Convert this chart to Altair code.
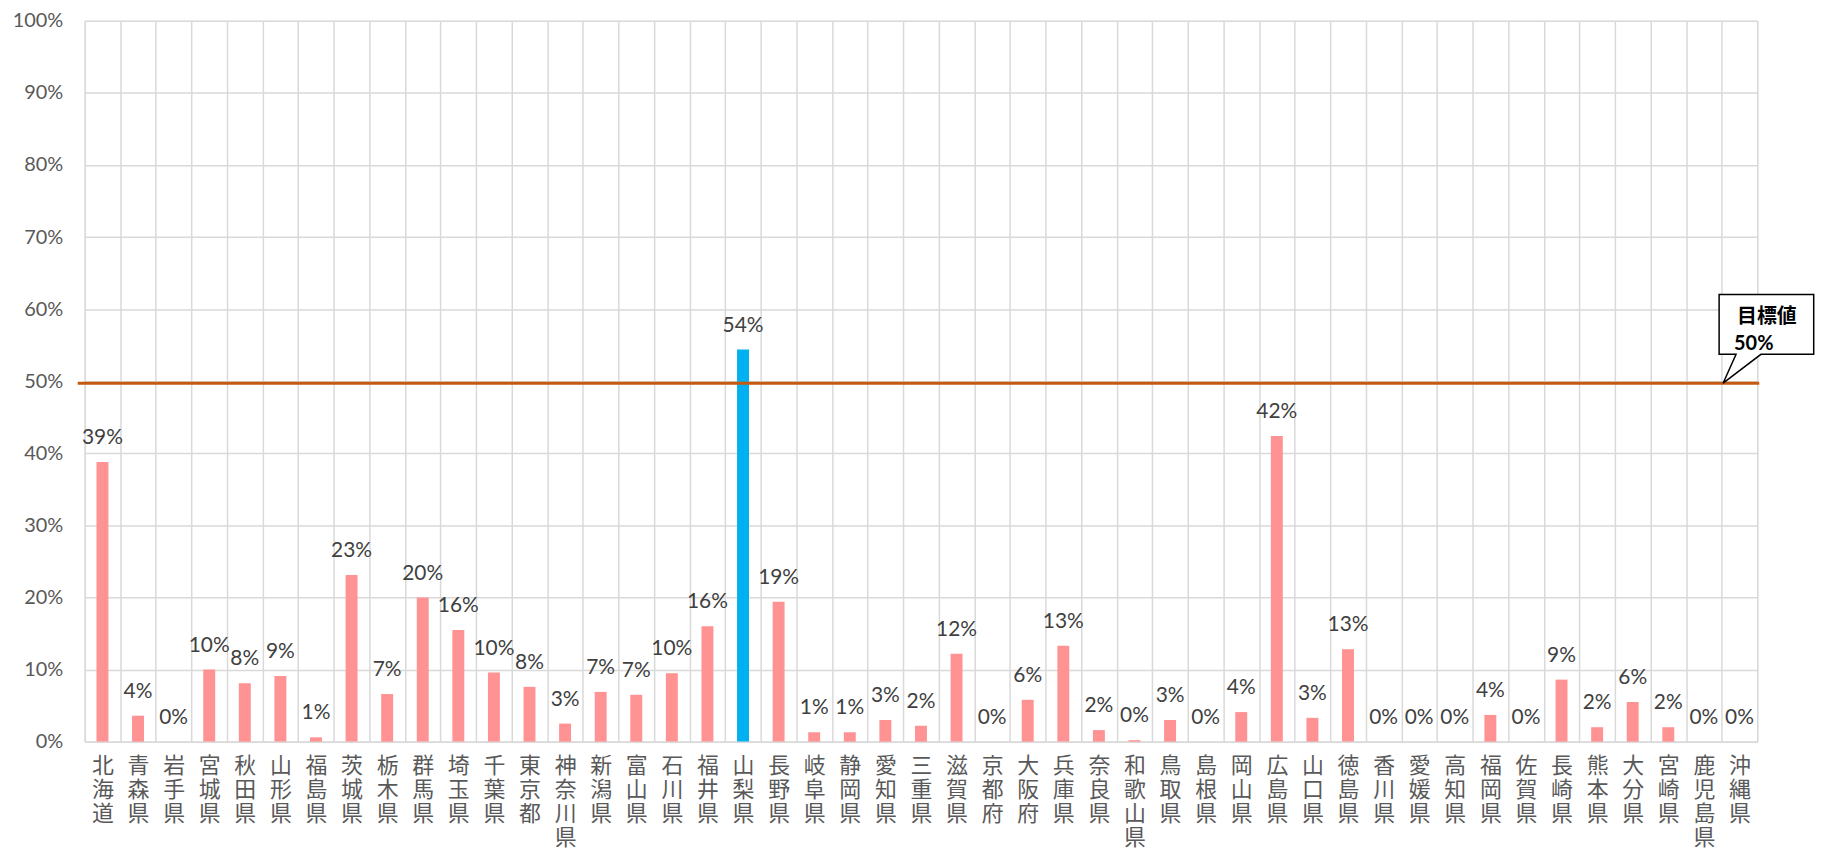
import altair as alt
import pandas as pd

prefectures = ["北海道", "青森県", "岩手県", "宮城県", "秋田県", "山形県", "福島県", "茨城県",
               "栃木県", "群馬県", "埼玉県", "千葉県", "東京都", "神奈川県", "新潟県", "富山県",
               "石川県", "福井県", "山梨県", "長野県", "岐阜県", "静岡県", "愛知県", "三重県",
               "滋賀県", "京都府", "大阪府", "兵庫県", "奈良県", "和歌山県", "鳥取県", "島根県",
               "岡山県", "広島県", "山口県", "徳島県", "香川県", "愛媛県", "高知県", "福岡県",
               "佐賀県", "長崎県", "熊本県", "大分県", "宮崎県", "鹿児島県", "沖縄県"]
rates_pct = [38.8, 3.6, 0, 10.0, 8.1, 9.1, 0.6, 23.1,
             6.6, 20.0, 15.5, 9.6, 7.6, 2.5, 6.9, 6.5,
             9.5, 16.0, 54.4, 19.4, 1.3, 1.3, 3.0, 2.2,
             12.2, 0, 5.8, 13.3, 1.6, 0.2, 3.0, 0,
             4.1, 42.4, 3.3, 12.8, 0, 0, 0, 3.7,
             0, 8.6, 2.0, 5.5, 2.0, 0, 0]
highlight = "山梨県"
target_pct = 50
target_title = "目標値"
target_label = "50%"
y_ticks = [0, 0.1, 0.2, 0.3, 0.4, 0.5, 0.6, 0.7, 0.8, 0.9, 1.0]

FONT = "Lato, 'Noto Sans CJK JP', sans-serif"

df = pd.DataFrame({"pref": prefectures, "rate": [v / 100 for v in rates_pct]})
target_df = pd.DataFrame({"pref": [prefectures[-1]], "target": [target_pct / 100],
                          "title": [target_title], "label": [target_label]})

x_enc = alt.X("pref:N", sort=prefectures,
              scale=alt.Scale(paddingInner=0, paddingOuter=0),
              axis=alt.Axis(title=None, labelAngle=0,
                            labelExpr="isString(datum.value) ? split(datum.value, '') : ''",
                            labelFontSize=22, labelColor="#595959", labelFont=FONT,
                            labelLineHeight=24, labelPadding=14,
                            grid=True, gridColor="#D9D9D9", gridWidth=1.5,
                            tickBand="extent", ticks=False,
                            domainColor="#D9D9D9", domainWidth=1.5))
y_enc = alt.Y("rate:Q", scale=alt.Scale(domain=[0, 1], nice=False),
              axis=alt.Axis(title=None, values=y_ticks, format=".0%",
                            labelFontSize=20, labelColor="#595959", labelFont=FONT,
                            labelPadding=22, ticks=False, domain=False,
                            gridColor="#D9D9D9", gridWidth=1.5))

base = alt.Chart(df)
bars = base.mark_bar(size=12).encode(
    x=x_enc, y=y_enc,
    color=alt.condition(alt.datum.pref == highlight, alt.value("#00B0F0"), alt.value("#FF9393")),
)
labels = base.mark_text(baseline="alphabetic", dy=-18, fontSize=21, color="#404040", font=FONT).encode(
    x=alt.X("pref:N", sort=prefectures),
    y=alt.Y("rate:Q"),
    text=alt.Text("rate:Q", format=".0%"),
)

target_rule = alt.Chart(target_df).mark_rule(color="#C65911", strokeWidth=3, yOffset=2).encode(
    y=alt.Y("target:Q"), x=alt.value(-7), x2=alt.value(1682)
)

callout_path = ("M 0 0 L 0.13 -0.29 L -0.04 -0.29 L -0.04 -0.89 L 0.91 -0.89 "
                "L 0.91 -0.29 L 0.38 -0.29 Z")
callout_box = alt.Chart(target_df).mark_point(
    shape=callout_path, size=40000, fill="white", stroke="black",
    strokeWidth=1.5, fillOpacity=1, strokeOpacity=1, opacity=1, yOffset=2
).encode(
    x=alt.X("pref:N", sort=prefectures, bandPosition=0.04),
    y=alt.Y("target:Q"),
)
callout_title = alt.Chart(target_df).mark_text(
    align="left", baseline="middle", dx=14, dy=-64, fontSize=20, fontWeight="bold",
    color="black", font=FONT
).encode(x=alt.X("pref:N", sort=prefectures, bandPosition=0.04), y=alt.Y("target:Q"), text="title:N")
callout_label = alt.Chart(target_df).mark_text(
    align="left", baseline="middle", dx=11, dy=-37, fontSize=20, fontWeight="bold",
    color="black", font=FONT
).encode(x=alt.X("pref:N", sort=prefectures, bandPosition=0.04), y=alt.Y("target:Q"), text="label:N")

chart = alt.layer(bars, labels, target_rule, callout_box, callout_title, callout_label).properties(
    width=1680, height=724,
    autosize=alt.AutoSizeParams(type="none"),
    padding={"left": 77, "top": 11, "right": 60, "bottom": 110},
).configure_view(stroke="#D9D9D9", strokeWidth=1.5).configure(background="white")

chart.save("out.html", embed_options={"renderer": "svg", "actions": False})
